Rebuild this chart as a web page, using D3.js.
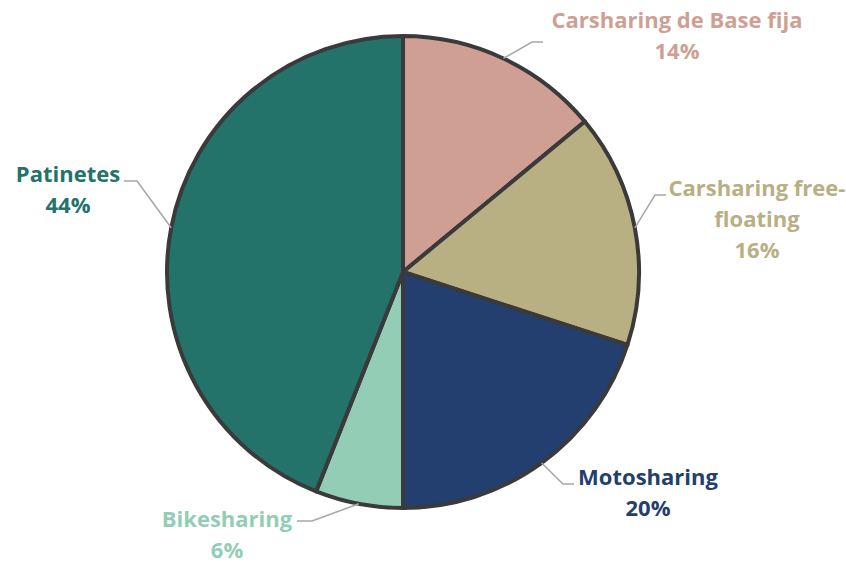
<!DOCTYPE html>
<html>
<head>
<meta charset="utf-8">
<script src="https://cdn.jsdelivr.net/npm/d3@7"></script>
<style>
  html, body { margin: 0; padding: 0; background: #ffffff; }
  svg { display: block; }
  .lbl { font-family: "Open Sans", Lato, sans-serif; font-weight: 700; font-size: 22px; }
</style>
</head>
<body>
<svg id="chart" width="846" height="565"></svg>
<script>
// Shared-mobility modes and their share (%)
const categories = ["Carsharing de Base fija", "Carsharing free-floating", "Motosharing", "Bikesharing", "Patinetes"];
const values = [14, 16, 20, 6, 44];
const colors = ["#CF9F94", "#B8AF83", "#233F70", "#93CDB5", "#23736A"];
// Label text lines (category wrapped as shown, percentage last)
const labelLines = [
  ["Carsharing de Base fija"],
  ["Carsharing free-", "floating"],
  ["Motosharing"],
  ["Bikesharing"],
  ["Patinetes"]
];

// Layout of the labels: text centre, first baseline, leader elbow and end
const labelLayout = [
  { x: 677, y: 28, elbow: [532, 42], end: [543, 42] },
  { x: 757, y: 196, elbow: [655, 195], end: [666, 195] },
  { x: 648, y: 485, elbow: [563, 484], end: [574, 484] },
  { x: 227, y: 527, elbow: [312, 521], end: [297, 521] },
  { x: 68, y: 182, elbow: [137, 181], end: [124, 181] }
];

const cx = 403, cy = 272, radius = 236;
const lineH = 31;

const svg = d3.select("#chart");
const g = svg.append("g").attr("transform", `translate(${cx},${cy})`);

const data = categories.map((c, i) => ({ name: c, value: values[i], color: colors[i], lines: labelLines[i], layout: labelLayout[i] }));

const pie = d3.pie().value(d => d.value).sort(null);
const arc = d3.arc().innerRadius(0).outerRadius(radius);
const arcs = pie(data);

g.selectAll("path.slice")
  .data(arcs)
  .join("path")
  .attr("class", "slice")
  .attr("d", arc)
  .attr("fill", d => d.data.color)
  .attr("stroke", "#3a3a3a")
  .attr("stroke-width", 4)
  .attr("stroke-linejoin", "round");

// Leader lines from slice edge at mid-angle
svg.selectAll("polyline.leader")
  .data(arcs)
  .join("polyline")
  .attr("class", "leader")
  .attr("fill", "none")
  .attr("stroke", "#A6A6A6")
  .attr("stroke-width", 1.5)
  .attr("points", d => {
    const a = (d.startAngle + d.endAngle) / 2;
    const sx = cx + radius * Math.sin(a);
    const sy = cy - radius * Math.cos(a);
    const L = d.data.layout;
    return [[sx, sy], L.elbow, L.end].map(p => p.join(",")).join(" ");
  });

// Labels: category name and percentage in slice colour
const labels = svg.selectAll("text.lbl")
  .data(arcs)
  .join("text")
  .attr("class", "lbl")
  .attr("text-anchor", "middle")
  .attr("fill", d => d.data.color);

labels.each(function (d) {
  const t = d3.select(this);
  const L = d.data.layout;
  const lines = d.data.lines.concat([d.data.value + "%"]);
  lines.forEach((s, i) => {
    t.append("tspan").attr("x", L.x).attr("y", L.y + i * lineH).text(s);
  });
});
</script>
</body>
</html>
